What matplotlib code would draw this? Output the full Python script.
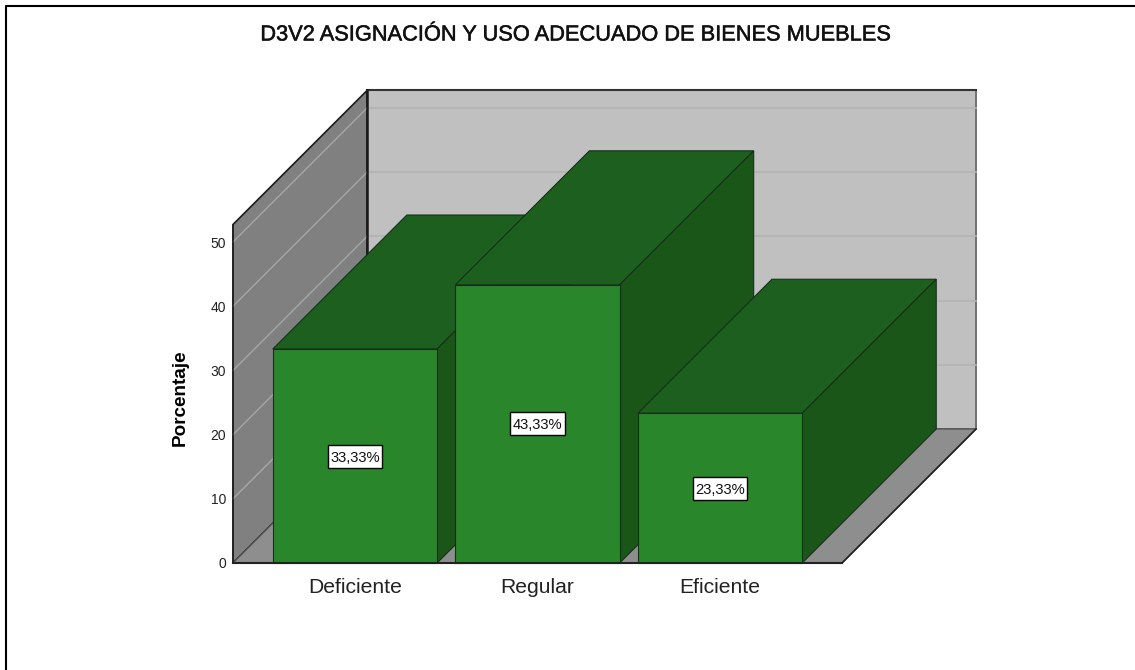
import matplotlib
matplotlib.use("Agg")
import matplotlib.pyplot as plt
import matplotlib.patheffects as pe
from matplotlib.lines import Line2D
from matplotlib.patches import Polygon, Rectangle

categories = ["Deficiente", "Regular", "Eficiente"]
values = [33.33, 43.33, 23.33]
labels = ["33,33%", "43,33%", "23,33%"]
yticks = [0, 10, 20, 30, 40, 50]
title = "D3V2 ASIGNACIÓN Y USO ADECUADO DE BIENES MUEBLES"
ylabel = "Porcentaje"

W, H = 1135, 670
plt.rcParams["font.family"] = ["Liberation Sans", "DejaVu Sans"]
fig = plt.figure(figsize=(W / 100, H / 100), dpi=100)
L, R, T, B = 233, 842, 224.5, 563
ax = fig.add_axes([L / W, 1 - B / H, (R - L) / W, (B - T) / H])
UY = 6.42
UX = 182.5
XMIN, XMAX = -0.668, 2.668
YMAX = (B - T) / UY
ax.set_xlim(XMIN, XMAX)
ax.set_ylim(0, YMAX)
ax.set_facecolor("none")
for s in ax.spines.values():
    s.set_visible(False)

DX = 134 / UX   # full depth, category units
DY = 134 / UY   # full depth, value units
BW = 0.9

def P(x, y, d=0.0):
    return (x + d * DX, y + d * DY)

def poly(pts, fc, ec="#1a1a1a", lw=1.0, z=1):
    ax.add_patch(Polygon(pts, closed=True, fc=fc, ec=ec, lw=lw, zorder=z,
                         clip_on=False, joinstyle="miter"))

# Walls and floor
poly([P(XMIN, 0, 1), P(XMAX, 0, 1), P(XMAX, YMAX, 1), P(XMIN, YMAX, 1)], "#c0c0c0", ec="#707070", lw=1.4)
poly([P(XMIN, 0), P(XMIN, 0, 1), P(XMIN, YMAX, 1), P(XMIN, YMAX)], "#808080", ec="#1a1a1a", lw=1.2)
poly([P(XMIN, 0), P(XMAX, 0), P(XMAX, 0, 1), P(XMIN, 0, 1)], "#8e8e8e", ec="#555555", lw=1.0)
ax.plot(*zip(P(XMIN, YMAX, 1), P(XMAX, YMAX, 1)), color="#333333", lw=1.5, zorder=2, clip_on=False)
ax.plot(*zip(P(XMIN, 0, 1), P(XMIN, YMAX, 1)), color="#1a1a1a", lw=1.8, zorder=3, clip_on=False)
ax.plot(*zip(P(XMAX, 0), P(XMAX, 0, 1)), color="#222222", lw=1.2, zorder=2, clip_on=False)

# Gridlines
for v in yticks[1:]:
    ax.plot(*zip(P(XMIN, v, 1), P(XMAX, v, 1)), color="#b3b3b3", lw=1.2, zorder=2, clip_on=False)
    ax.plot(*zip(P(XMIN, v), P(XMIN, v, 1)), color="#a6a6a6", lw=1.0, zorder=2, clip_on=False)

# Bars
GREEN, TOP, SIDE = "#29862a", "#1d5f1e", "#1b5619"
EDGE = "#15301a"
for i, (v, lab) in enumerate(zip(values, labels)):
    a, b = i - BW / 2, i + BW / 2
    z = 4 + i
    poly([P(a, v), P(a, v, 1), P(b, v, 1), P(b, v)], TOP, ec=EDGE, lw=0.8, z=z)
    poly([P(b, 0), P(b, 0, 1), P(b, v, 1), P(b, v)], SIDE, ec=EDGE, lw=0.8, z=z)
    poly([P(a, 0), P(b, 0), P(b, v), P(a, v)], GREEN, ec=EDGE, lw=0.8, z=z)
    ax.add_patch(Rectangle((i - 27 / UX, v / 2 - 11.5 / UY), 54 / UX, 23 / UY,
                           fc="white", ec="black", lw=1.0, zorder=10))
    ax.text(i, v / 2, lab, ha="center", va="center_baseline", fontsize=10.6, color="#111111", zorder=11)

ax.plot([XMIN, XMAX], [0, 0], color="#222222", lw=1.5, zorder=9, clip_on=False)
ax.plot([XMIN, XMIN], [0, YMAX], color="#222222", lw=1.2, zorder=9, clip_on=False)

ax.set_xticks(range(len(categories)), categories)
ax.set_yticks(yticks)
ax.tick_params(axis="x", length=0, pad=11, labelsize=15.2, labelcolor="#222222")
ax.tick_params(axis="y", length=0, pad=5, labelsize=10, labelcolor="#222222")
fig.text(180 / W, 1 - 398 / H, ylabel, rotation=90, ha="center", va="center", fontsize=13.6,
         color="black", fontweight="bold")
fig.text(574 / W, 1 - 35 / H, title, ha="center", va="center", fontsize=15.7, color="#111111",
         path_effects=[pe.withStroke(linewidth=0.35, foreground="#111111")])

# Outer frame: only the top and left edges fall inside the picture
fig.add_artist(Line2D([6 / W, 6 / W, 1], [0, 1 - 6 / H, 1 - 6 / H], transform=fig.transFigure,
                      color="black", lw=1.5))
fig.savefig("out.png", dpi=100)
